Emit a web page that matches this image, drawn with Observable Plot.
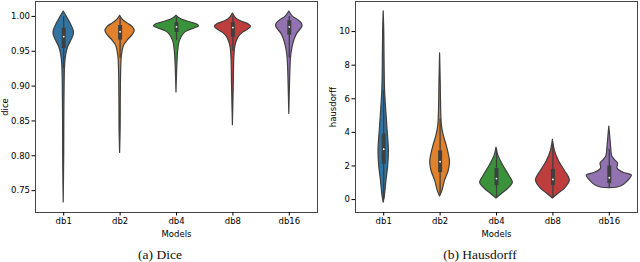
<!DOCTYPE html>
<html>
<head>
<meta charset="utf-8">
<script src="https://cdn.jsdelivr.net/npm/d3@7"></script>
<script src="https://cdn.jsdelivr.net/npm/@observablehq/plot@0.6"></script>
<style>
  html, body { margin: 0; padding: 0; background: white; }
  #wrap { position: relative; width: 640px; height: 262px; overflow: hidden; }
  .panel { position: absolute; top: 0; width: 320px; height: 262px; }
  .cap { position: absolute; top: 247px; width: 100%; text-align: center;
         font-family: "Liberation Serif", serif; font-size: 13.5px; line-height: 16px; color: #111; }
</style>
</head>
<body>
<div id="wrap">
  <div class="panel" id="left" style="left:0"></div>
  <div class="panel" id="right" style="left:320px"></div>
</div>
<script>
// ---- data ----
const models = ["db1", "db2", "db4", "db8", "db16"];
const colors = ["#3274a1", "#e1812c", "#3a923a", "#c03d3e", "#9372b2"];
const captions = ["(a) Dice", "(b) Hausdorff"];

// Dice violin outlines: [value, half-width (fraction of category spacing)]
const diceDb1 = [[1.007,0],[1.0,0.05],[0.99,0.12],[0.98,0.175],[0.974,0.18],[0.966,0.14],[0.956,0.08],[0.945,0.045],[0.93,0.025],[0.90,0.016],[0.85,0.011],[0.80,0.009],[0.733,0]];
const diceDb2 = [[1.001,0],[0.995,0.05],[0.99,0.13],[0.985,0.22],[0.979,0.26],[0.972,0.21],[0.965,0.13],[0.958,0.07],[0.95,0.045],[0.94,0.028],[0.92,0.018],[0.88,0.012],[0.84,0.01],[0.804,0]];
const diceDb4 = [[1.001,0],[0.997,0.06],[0.993,0.18],[0.989,0.35],[0.986,0.40],[0.983,0.33],[0.979,0.20],[0.975,0.13],[0.97,0.09],[0.962,0.05],[0.95,0.03],[0.93,0.015],[0.891,0]];
const diceDb8 = [[1.004,0],[0.998,0.05],[0.993,0.14],[0.989,0.27],[0.985,0.32],[0.981,0.27],[0.976,0.17],[0.97,0.10],[0.962,0.06],[0.955,0.04],[0.94,0.025],[0.90,0.015],[0.844,0]];
const diceDb16 = [[1.007,0],[1.0,0.06],[0.995,0.15],[0.99,0.22],[0.986,0.235],[0.981,0.20],[0.975,0.14],[0.968,0.10],[0.96,0.07],[0.95,0.045],[0.94,0.03],[0.92,0.018],[0.86,0]];
const diceQ1  = [0.954, 0.966, 0.977, 0.970, 0.973];
const diceMed = [0.971, 0.978, 0.985, 0.984, 0.985];
const diceQ3  = [0.983, 0.987, 0.991, 0.991, 0.994];
const diceLo  = [0.925, 0.940, 0.965, 0.950, 0.940];
const diceHi  = [1.000, 0.998, 0.998, 1.000, 1.000];
const diceTicks = [0.75, 0.80, 0.85, 0.90, 0.95, 1.00];

// Hausdorff violin outlines
const hdDb1 = [[11.21,0],[10.0,0.01],[8.0,0.016],[6.5,0.024],[5.3,0.045],[4.1,0.07],[2.9,0.092],[2.0,0.08],[1.1,0.048],[0.24,0.022],[-0.18,0]];
const hdDb2 = [[8.7,0],[7.0,0.011],[5.5,0.018],[4.4,0.032],[3.8,0.065],[3.2,0.118],[2.6,0.16],[2.2,0.175],[1.7,0.152],[1.1,0.085],[0.5,0.04],[0.18,0]];
const hdDb4 = [[3.1,0],[2.6,0.035],[2.0,0.124],[1.4,0.23],[1.0,0.29],[0.65,0.213],[0.36,0.106],[0.06,0]];
const hdDb8 = [[3.55,0],[2.9,0.035],[2.3,0.106],[1.7,0.213],[1.13,0.30],[0.65,0.213],[0.36,0.106],[0.06,0]];
const hdDb16 = [[4.35,0],[3.6,0.02],[3.0,0.035],[2.6,0.05],[2.35,0.10],[2.15,0.155],[1.85,0.145],[1.6,0.25],[1.43,0.40],[1.13,0.34],[0.85,0.25],[0.72,0.15],[0.68,0]];
const hdQ1  = [2.1, 1.6, 0.83, 0.83, 0.95];
const hdMed = [3.0, 2.25, 1.25, 1.2, 1.3];
const hdQ3  = [3.9, 2.9, 1.85, 1.8, 2.0];
const hdLo  = [0.0, 0.3, 0.1, 0.1, 0.7];
const hdHi  = [6.5, 4.8, 3.0, 3.3, 3.0];
const hdTicks = [0, 2, 4, 6, 8, 10];

// ---- drawing ----
function panel(o) {
  const rows = [];
  models.forEach((m, i) => {
    o.profiles[i].slice().sort((a, b) => a[0] - b[0]).forEach(([v, w]) => rows.push({m, i, v, w}));
  });
  const stats = models.map((m, i) => ({i, q1: o.q1[i], med: o.med[i], q3: o.q3[i], lo: o.lo[i], hi: o.hi[i]}));
  return Plot.plot({
    width: 320, height: 240,
    marginLeft: 35, marginRight: 3, marginTop: 1, marginBottom: 28,
    style: {fontFamily: "DejaVu Sans", fontSize: "8.5px", color: "#000", background: "white", overflow: "visible"},
    x: {domain: [-0.5, 4.5]},
    y: {domain: o.domain},
    color: {domain: models, range: colors},
    marks: [
      Plot.areaX(rows, {y: "v", x1: d => d.i - d.w, x2: d => d.i + d.w, z: "m", fill: "m",
        stroke: "#3f3f3f", strokeWidth: 1.2, curve: "catmull-rom"}),
      Plot.ruleX(stats, {x: "i", y1: "lo", y2: "hi", stroke: "#3f3f3f", strokeWidth: 1.3}),
      Plot.ruleX(stats, {x: "i", y1: "q1", y2: "q3", stroke: "#3f3f3f", strokeWidth: 4}),
      Plot.dot(stats, {x: "i", y: "med", r: 0.9, fill: "white", stroke: null}),
      Plot.frame({stroke: "#444", strokeWidth: 1}),
      Plot.axisX({ticks: [0, 1, 2, 3, 4], tickFormat: i => models[i], tickSize: 3.5, tickPadding: 2,
        label: "Models", labelAnchor: "center", labelOffset: 24, labelArrow: "none"}),
      Plot.axisY({ticks: o.ticks, tickFormat: o.fmt, tickSize: 3.5, tickPadding: 2,
        label: o.ylabel, labelAnchor: "center", labelOffset: o.labelOffset, labelArrow: "none"})
    ]
  });
}

const left = panel({profiles: [diceDb1, diceDb2, diceDb4, diceDb8, diceDb16],
  q1: diceQ1, med: diceMed, q3: diceQ3, lo: diceLo, hi: diceHi,
  domain: [0.7186, 1.0214], ticks: diceTicks, fmt: d3.format(".2f"), ylabel: "dice", labelOffset: 34});
const right = panel({profiles: [hdDb1, hdDb2, hdDb4, hdDb8, hdDb16],
  q1: hdQ1, med: hdMed, q3: hdQ3, lo: hdLo, hi: hdHi,
  domain: [-0.77, 11.79], ticks: hdTicks, fmt: d3.format("d"), ylabel: "hausdorff", labelOffset: 26});

document.getElementById("left").appendChild(left);
document.getElementById("right").appendChild(right);
[["left", 0], ["right", 1]].forEach(([id, k]) => {
  const c = document.createElement("div");
  c.className = "cap";
  c.textContent = captions[k];
  document.getElementById(id).appendChild(c);
});
</script>
</body>
</html>
